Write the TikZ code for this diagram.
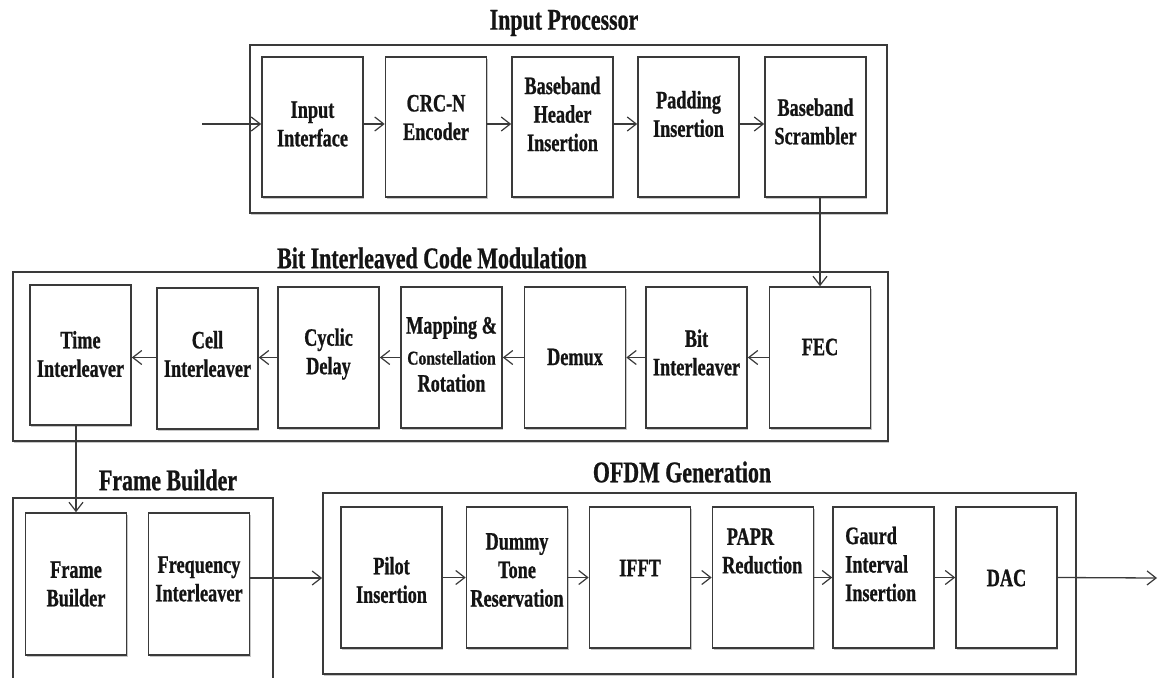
\documentclass[tikz,border=0pt]{standalone}
\usepackage{fontspec}
\setmainfont{Liberation Serif}[FakeStretch=0.73, BoldFeatures={FakeBold=0.8}]
\newfontfamily\cfont{Liberation Serif}[FakeStretch=0.8, BoldFeatures={FakeBold=0.8}]
\usetikzlibrary{arrows.meta,shadows}
\definecolor{linec}{HTML}{3A3A3A}
\begin{document}
\begin{tikzpicture}[x=1pt,y=-1pt,
  blk/.style={draw=linec, line width=1.6pt, fill=white, inner sep=0pt,
    minimum width=101pt, minimum height=141pt,
    drop shadow={shadow xshift=1.2pt, shadow yshift=-2.2pt, fill=black!40, opacity=0.55}},
  grp/.style={draw=linec, line width=1.8pt, inner sep=0pt,
    drop shadow={shadow xshift=1.2pt, shadow yshift=-2.2pt, fill=black!40, opacity=0.55}},
  lbl/.style={font=\bfseries\fontsize{25}{28.5}\selectfont, align=center, inner sep=0pt, text=black!92},
  ttl/.style={font=\bfseries\fontsize{30}{34}\selectfont, inner sep=0pt, text=black!92},
  arr/.style={draw=linec, line width=1.3pt, -{Straight Barb[length=9pt,width=14pt,line width=1.2pt]}}]
\useasboundingbox (0,0) rectangle (1158,677);
\clip (0,0) rectangle (1158,677);
\fill[white] (0,0) rectangle (1158,677);

% group boxes
\node[grp, fill=white, minimum width=637pt, minimum height=168pt] (ipg) at (568.5,129) {};
\node[grp, fill=white, minimum width=875pt, minimum height=169pt] (bcg) at (450.5,356.5) {};
\node[grp, fill=white, minimum width=260pt, minimum height=192pt] (fbg) at (143,594) {};
\node[grp, fill=white, minimum width=753pt, minimum height=181pt] (ofg) at (699.5,583.5) {};

% titles
\node[ttl] (ipt) at (564,23) {Input Processor};
\node[ttl] (bct) at (432,258) {Bit Interleaved Code Modulation};
\node[ttl] (fbt) at (168,480) {Frame Builder};
\node[ttl] (oft) at (682,472) {OFDM Generation};

% input processor blocks
\node[blk, minimum height=140pt] (ii)  at (312.5,127) {};
\node[blk, minimum height=140pt] (crc) at (436,127) {};
\node[blk, minimum height=140pt] (bh)  at (562.5,127) {};
\node[blk, minimum height=140pt] (pad) at (688.5,127) {};
\node[blk, minimum height=140pt] (bs)  at (815.5,127) {};
\node[lbl] (ii-t)  at (312.5,124) {Input\\Interface};
\node[lbl] (crc-t) at (436,117.5) {CRC-N\\Encoder};
\node[lbl] (bh-t)  at (562.5,114) {Baseband\\Header\\Insertion};
\node[lbl] (pad-t) at (688.5,114) {Padding\\Insertion};
\node[lbl] (bs-t)  at (815.5,121.5) {Baseband\\Scrambler};

% BICM blocks
\node[blk, minimum height=140pt] (ti) at (80.5,355) {};
\node[blk] (ci)  at (207.5,358.5) {};
\node[blk] (cd)  at (328.5,357.5) {};
\node[blk] (map) at (451.5,357.5) {};
\node[blk] (dmx) at (575,357.5) {};
\node[blk] (bil) at (696.5,357.5) {};
\node[blk] (fec) at (820,357.5) {};
\node[lbl] (ti-t)  at (80.5,354) {Time\\Interleaver};
\node[lbl] (ci-t)  at (207.5,354) {Cell\\Interleaver};
\node[lbl] (cd-t)  at (328.5,354) {Cyclic\\Delay};
\node[lbl] (map-t) at (451.5,354) {Mapping \&\\[2.5pt]{\cfont\bfseries\fontsize{19.5}{20}\selectfont Constellation}\\[-1.5pt]Rotation};
\node[lbl] (dmx-t) at (575,357) {Demux};
\node[lbl] (bil-t) at (696.5,352.5) {Bit\\Interleaver};
\node[lbl] (fec-t) at (820,347) {FEC};

% frame builder blocks
\node[blk, minimum height=142pt] (fbb) at (76,584) {};
\node[blk, minimum height=142pt] (fi)  at (199,584) {};
\node[lbl] (fbb-t) at (76,584) {Frame\\Builder};
\node[lbl] (fi-t)  at (199,579) {Frequency\\Interleaver};

% OFDM blocks
\node[blk] (pil)  at (391.5,577.5) {};
\node[blk] (dum)  at (517,577.5) {};
\node[blk] (ifft) at (640,577.5) {};
\node[blk] (papr) at (763,577.5) {};
\node[blk] (gi)   at (883.5,577.5) {};
\node[blk] (dac)  at (1006.5,577.5) {};
\node[lbl] (pil-t)  at (391.5,580) {Pilot\\Insertion};
\node[lbl] (dum-t)  at (517,570) {Dummy\\Tone\\Reservation};
\node[lbl] (ifft-t) at (640,568) {IFFT};
\node[lbl, align=left, anchor=west] (papr-t) at (722,551) {\ PAPR\\Reduction};
\node[lbl, align=left, anchor=west] (gi-t)   at (845,564) {Gaurd\\Interval\\Insertion};
\node[lbl] (dac-t)  at (1006.5,578) {DAC};

% connectors
\coordinate (inp) at (202,124);
\coordinate (outp) at (1157,578);
\draw[arr] (inp) -- (inp -| ii.west);
\draw[arr] ([yshift=3pt]ii.east) -- ([yshift=3pt]crc.west);
\draw[arr] ([yshift=3pt]crc.east) -- ([yshift=3pt]bh.west);
\draw[arr] ([yshift=3pt]bh.east) -- ([yshift=3pt]pad.west);
\draw[arr] ([yshift=3pt]pad.east) -- ([yshift=3pt]bs.west);
\draw[arr] (fec.north |- bs.south) -- (fec.north);
\draw[arr] (fec.west) -- (fec.west -| bil.east);
\draw[arr] (bil.west) -- (bil.west -| dmx.east);
\draw[arr] (dmx.west) -- (dmx.west -| map.east);
\draw[arr] (map.west) -- (map.west -| cd.east);
\draw[arr] (cd.west) -- (cd.west -| ci.east);
\draw[arr] (ci.west |- cd.west) -- (ci.west |- cd.west -| ti.east);
\draw[arr] (fbb.north |- ti.south) -- (fbb.north);
\coordinate (fio) at ([yshift=6pt]fi.east);
\draw[arr] (fio) -- (fio -| ofg.west);
\draw[arr] (pil.east) -- (dum.west);
\draw[arr] (dum.east) -- (ifft.west);
\draw[arr] (ifft.east) -- (papr.west);
\draw[arr] (papr.east) -- (gi.west);
\draw[arr] (gi.east) -- (dac.west);
\draw[arr] (dac.east) -- (outp);
\end{tikzpicture}
\end{document}
